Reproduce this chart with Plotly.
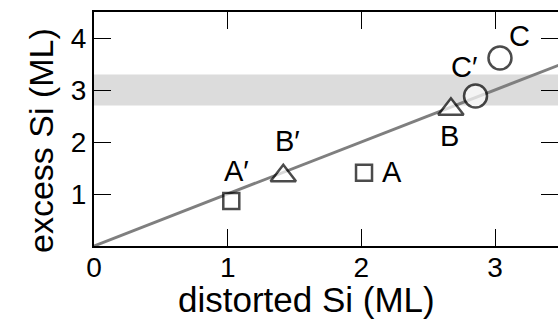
import plotly.graph_objects as go

# ---- data ----
point_names = ["A′", "B′", "A", "B", "C′", "C"]
distorted_si = [1.027, 1.416, 2.02, 2.67, 2.854, 3.037]
excess_si = [0.865, 1.35, 1.41, 2.63, 2.885, 3.615]

fit_x = [0.0, 3.6]
fit_y = [0.0, 3.6]

band_low = 2.7
band_high = 3.3

x_ticks = [0, 1, 2, 3]
y_ticks = [1, 2, 3, 4]

x_title = "distorted Si (ML)"
y_title = "excess Si (ML)"

# ---- styles ----
symbols = ["square", "triangle-up", "square", "triangle-up", "circle", "circle"]
sizes = [16, 22, 16, 22, 23, 23]
label_shift = [(5, 30), (4, 35), (28, 1), (-1, -27), (-12, 29), (20, 22)]

FONT = "Liberation Sans, Arial, Helvetica, sans-serif"

fig = go.Figure()

fig.add_shape(type="rect", xref="paper", x0=0, x1=1, yref="y", y0=band_low, y1=band_high,
              fillcolor="#dcdcdc", line=dict(width=0), layer="below")

fig.add_trace(go.Scatter(x=fit_x, y=fit_y, mode="lines",
                         line=dict(color="#7f7f7f", width=3), showlegend=False,
                         hoverinfo="skip"))

fig.add_trace(go.Scatter(x=distorted_si, y=excess_si, mode="markers",
                         marker=dict(symbol=symbols, size=sizes, color="white",
                                     line=dict(color="black", width=2.5)),
                         showlegend=False))

# dummy trace for right-side tick axis
fig.add_trace(go.Scatter(x=[None], y=[None], yaxis="y2", showlegend=False, hoverinfo="skip"))

for name, xv, yv, (dx, dy) in zip(point_names, distorted_si, excess_si, label_shift):
    fig.add_annotation(x=xv, y=yv, xref="x", yref="y", text=name, showarrow=False,
                       xshift=dx, yshift=dy, font=dict(family=FONT, size=29, color="black"))

fig.add_annotation(x=0, y=0, xref="paper", yref="paper", text=x_title, showarrow=False,
                   xshift=212, yshift=-53, xanchor="center", yanchor="middle",
                   font=dict(family=FONT, size=35, color="black"))
fig.add_annotation(x=0, y=0.5, xref="paper", yref="paper", text=y_title, showarrow=False,
                   textangle=-90, xshift=-53, yshift=-12, xanchor="center", yanchor="middle",
                   font=dict(family=FONT, size=34, color="black"))

fig.update_layout(
    width=558, height=320,
    margin=dict(l=94, r=0, t=12, b=74, pad=0),
    paper_bgcolor="white", plot_bgcolor="white",
    font=dict(family=FONT, size=28, color="black"),
    xaxis=dict(range=[0, 3.471], tickvals=x_ticks, ticktext=[str(v) for v in x_ticks],
               ticks="inside", ticklen=17, tickwidth=1, tickcolor="black",
               showline=True, linewidth=2, linecolor="black", mirror="ticks",
               showgrid=False, zeroline=False, tickfont=dict(size=28),
               ticklabelstandoff=-5),
    yaxis=dict(range=[0, 4.5], tickvals=y_ticks, ticktext=[str(v) for v in y_ticks],
               ticks="inside", ticklen=17, tickwidth=1, tickcolor="black",
               showline=True, linewidth=2, linecolor="black", mirror=False,
               showgrid=False, zeroline=False, tickfont=dict(size=28)),
    yaxis2=dict(overlaying="y", side="right", matches="y", range=[0, 4.5],
                tickvals=y_ticks, ticks="inside", ticklen=17, tickwidth=1, tickcolor="black",
                showticklabels=False, showline=False, showgrid=False, zeroline=False),
)

fig.write_html("out.html", config={"displayModeBar": False},
               post_script="document.body.style.margin='0';document.body.style.overflow='hidden';")
